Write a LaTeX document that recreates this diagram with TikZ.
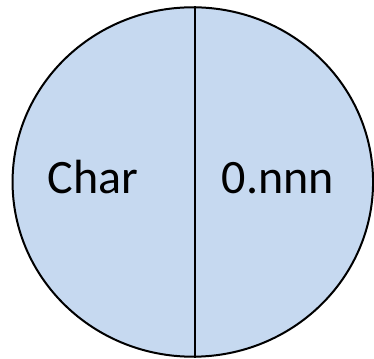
\documentclass[tikz,border=0pt]{standalone}
\usepackage{fontspec}
\setmainfont{Carlito}
\usetikzlibrary{shapes.geometric}
\definecolor{fillblue}{HTML}{C6D9F0}
\tikzset{
  disc/.style={ellipse, draw=black, line width=2pt, fill=fillblue, minimum width=360.5pt, minimum height=349.4pt, inner sep=0pt},
  lbl/.style={font=\fontsize{48}{56}\selectfont, anchor=base, inner sep=0pt},
  divider/.style={draw=black, line width=2pt}
}
\begin{document}
\begin{tikzpicture}[x=1pt,y=1pt]
\useasboundingbox (0,0) rectangle (374,358);
\node[disc] (e) at (192.8,176) {};
\coordinate (lx) at (195,0);
\draw[divider] (e.north -| lx) -- (e.south -| lx);
\node[lbl] (char) at (93,164) {Char};
\node[lbl] (num) at (278,164) {0.nnn};
\end{tikzpicture}
\end{document}
